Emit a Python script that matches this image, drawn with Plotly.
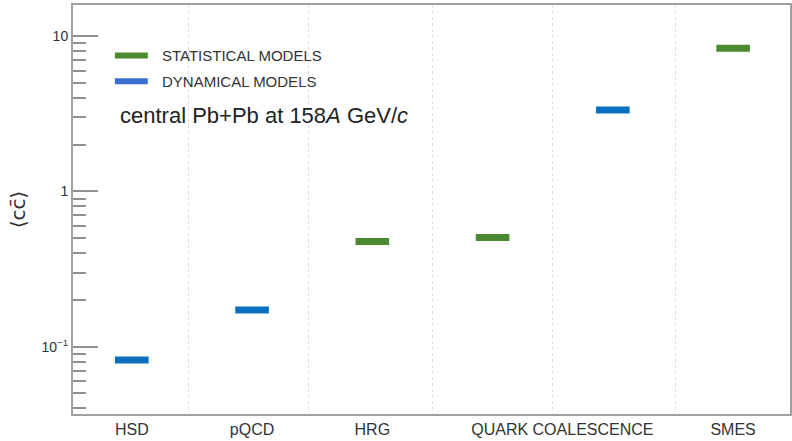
import plotly.graph_objects as go

# charm pair yield predictions, central Pb+Pb at 158A GeV/c
stat_x = [2, 3, 5]            # HRG, quark coalescence, SMES
stat_vals = [0.476, 0.505, 8.36]
dyn_x = [0, 1, 4]             # HSD, pQCD, quark coalescence
dyn_vals = [0.082, 0.1725, 3.35]

tick_pos = [0, 1, 2, 3.58, 5]
tick_labels = ["HSD", "pQCD", "HRG", "QUARK COALESCENCE", "SMES"]
legend_names = ["STATISTICAL MODELS", "DYNAMICAL MODELS"]

green = "#4b8a30"
blue = "#0b6fc0"
legend_blue = "#3a6fd2"
font = "Liberation Sans, Arial, sans-serif"

fig = go.Figure()
fig.add_trace(go.Scatter(x=stat_x, y=stat_vals, mode="markers", showlegend=False,
                         marker=dict(symbol="line-ew", size=24, line=dict(color=green, width=7))))
fig.add_trace(go.Scatter(x=dyn_x, y=dyn_vals, mode="markers", showlegend=False,
                         marker=dict(symbol="line-ew", size=24, line=dict(color=blue, width=7))))

# hand made legend
for i, (name, col) in enumerate(zip(legend_names, [green, legend_blue])):
    yy = [0.8765, 0.8135][i]
    fig.add_shape(type="line", xref="paper", yref="paper", x0=0.0584, x1=0.1043, y0=yy, y1=yy,
                  line=dict(color=col, width=6))
    fig.add_annotation(text=name, xref="paper", yref="paper", x=0.121, y=yy, xanchor="left",
                       yanchor="middle", showarrow=False, font=dict(family=font, size=15, color="#333"))

fig.add_annotation(text="central Pb+Pb at 158<i>A</i> GeV/<i>c</i>", xref="paper", yref="paper",
                   x=0.0626, y=0.731, xanchor="left", yanchor="middle", showarrow=False,
                   font=dict(family=font, size=22, color="#222"))

minor_y = [m * 10.0 ** e for e in (-2, -1, 0, 1) for m in range(2, 10)]

fig.update_xaxes(range=[-0.489, 5.473], tickvals=tick_pos, ticktext=tick_labels, ticks="",
                 showgrid=False, zeroline=False, showline=True, linecolor="#a0a0a0", linewidth=2, mirror=True,
                 tickfont=dict(family=font, size=16, color="#333"),
                 minor=dict(tickvals=[0.47, 1.47, 2.5, 3.5, 4.52], showgrid=True, griddash="dot",
                            gridcolor="#dedede", gridwidth=1, ticks=""))
fig.update_yaxes(type="log", range=[-1.434, 1.2013], tickvals=[0.1, 1, 10],
                 ticktext=["10<sup>−1</sup>", "1", "10"], ticks="inside", ticklen=25, tickwidth=1.5,
                 tickcolor="#909090", showgrid=False, zeroline=False, showline=True, linecolor="#a0a0a0",
                 linewidth=2, mirror=True, tickfont=dict(family=font, size=14, color="#333"),
                 title=dict(text="⟨cc̄⟩", standoff=10, font=dict(family="DejaVu Sans", size=20, color="#333")),
                 minor=dict(tickvals=minor_y, ticks="inside", ticklen=13, tickwidth=1.5, tickcolor="#909090",
                            showgrid=False))

fig.update_layout(width=792, height=441, margin=dict(l=73, r=0, t=5, b=27),
                  plot_bgcolor="white", paper_bgcolor="white", showlegend=False)

fig.write_html("out.html", config={"displayModeBar": False},
               post_script="document.body.style.margin='0px';")
